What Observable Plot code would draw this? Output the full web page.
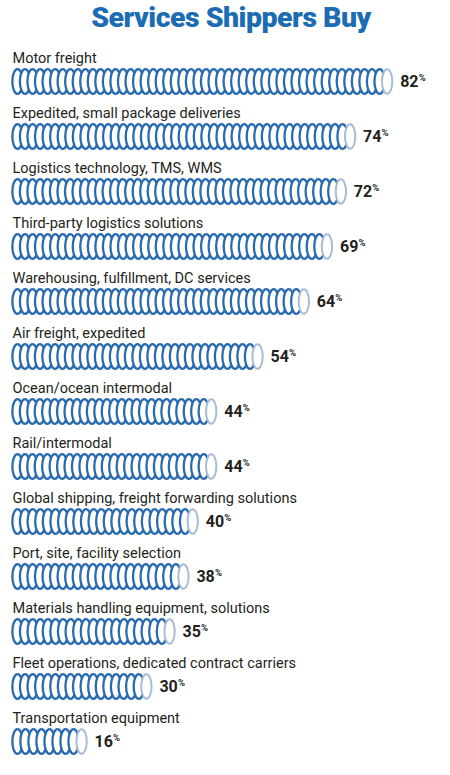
<!DOCTYPE html>
<html>
<head>
<meta charset="utf-8">
<script src="https://cdn.jsdelivr.net/npm/d3@7"></script>
<script src="https://cdn.jsdelivr.net/npm/@observablehq/plot@0.6"></script>
<style>
  html, body { margin: 0; padding: 0; background: #fff; }
  #title { height: 40px; line-height: 36px; text-align: center; padding-left: 12px; font-family: Roboto, sans-serif; font-weight: 900; font-size: 28.5px; color: #1c6cb4; letter-spacing: -0.5px; }
  #chart svg { display: block; }
</style>
</head>
<body>
<div id="title">Services Shippers Buy</div>
<div id="chart"></div>
<script>
const categories = [
  "Motor freight",
  "Expedited, small package deliveries",
  "Logistics technology, TMS, WMS",
  "Third-party logistics solutions",
  "Warehousing, fulfillment, DC services",
  "Air freight, expedited",
  "Ocean/ocean intermodal",
  "Rail/intermodal",
  "Global shipping, freight forwarding solutions",
  "Port, site, facility selection",
  "Materials handling equipment, solutions",
  "Fleet operations, dedicated contract carriers",
  "Transportation equipment"
];
const values = [82, 74, 72, 69, 64, 54, 44, 44, 40, 38, 35, 30, 16];

const rows = categories.map((c, i) => ({cat: c, value: values[i]}));

// Decorative rings that fill each bar from 0 to its value
const half = 1.08, step = 1.64;
const rings = [], caps = [];
rows.forEach(d => {
  const span = d.value - 2 * half;
  const n = Math.max(2, Math.round(span / step) + 1);
  for (let i = 0; i < n; i++) {
    const r = {cat: d.cat, cx: half + i * span / (n - 1)};
    if (i < n - 1) rings.push(r); else caps.push(r);
  }
});

// Ellipse symbol (a ring seen from the side)
const ellipse = {
  draw(ctx, size) {
    const ry = Math.sqrt(size / Math.PI), rx = ry * 0.42, k = 0.5523;
    ctx.moveTo(0, -ry);
    ctx.bezierCurveTo(rx * k, -ry, rx, -ry * k, rx, 0);
    ctx.bezierCurveTo(rx, ry * k, rx * k, ry, 0, ry);
    ctx.bezierCurveTo(-rx * k, ry, -rx, ry * k, -rx, 0);
    ctx.bezierCurveTo(-rx, -ry * k, -rx * k, -ry, 0, -ry);
    ctx.closePath();
  }
};

const chart = Plot.plot({
  width: 450,
  height: 735,
  marginLeft: 12,
  marginRight: 0,
  marginTop: 36,
  marginBottom: 29,
  x: {domain: [0, 94.6], axis: null},
  y: {type: "point", domain: categories, padding: 0, axis: null},
  style: {fontFamily: "Roboto, sans-serif"},
  marks: [
    Plot.text(rows, {x: 0, y: "cat", text: "cat", textAnchor: "start", dx: 0, dy: -23, fontSize: 14.5, fill: "#231f20"}),
    Plot.dot(rings, {x: "cx", y: "cat", r: 12.3, symbol: ellipse, fill: "white", stroke: "#2a6bb0", strokeWidth: 2.3}),
    Plot.dot(caps, {x: "cx", y: "cat", r: 12.3, symbol: ellipse, fill: "white", stroke: "#a9bcd5", strokeWidth: 2}),
    Plot.text(rows, {x: "value", y: "cat", text: d => String(d.value), textAnchor: "start", dx: 8, dy: 0, fontSize: 16, fontWeight: 700, fill: "#231f20"}),
    Plot.text(rows, {x: "value", y: "cat", text: () => "%", textAnchor: "start", dx: 26.5, dy: -4, fontSize: 9.5, fontWeight: 700, fill: "#231f20"})
  ]
});
document.getElementById("chart").appendChild(chart);
</script>
</body>
</html>
